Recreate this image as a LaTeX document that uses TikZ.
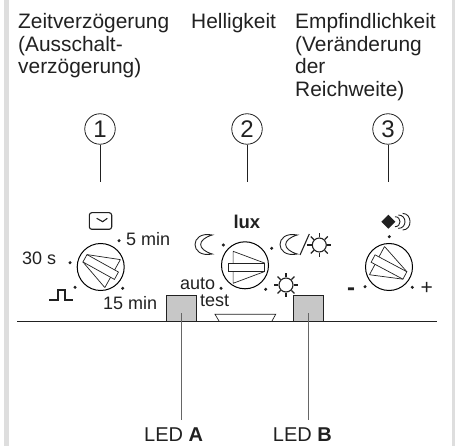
\documentclass[tikz,border=0pt]{standalone}
\usepackage{fontspec}
\setmainfont{Liberation Sans}
\definecolor{inkdark}{gray}{0.13}
\definecolor{barcol}{gray}{0.87}
\definecolor{ledcol}{gray}{0.78}
\tikzset{
  headtext/.style={anchor=north west,inner sep=0pt,align=left,text=inkdark,font=\fontsize{20.9}{22.7}\selectfont},
  smalltext/.style={anchor=base west,inner sep=0pt,text=inkdark,font=\fontsize{18}{20}\selectfont},
  ledtext/.style={anchor=base west,inner sep=0pt,text=inkdark,font=\fontsize{20}{22}\selectfont},
  numcircle/.style={circle,draw=inkdark,line width=0.8pt,minimum size=30.5pt,inner sep=0pt,text=inkdark,font=\fontsize{24}{26}\selectfont},
  dial/.style={circle,draw=black,line width=1pt,minimum size=47pt,inner sep=0pt},
  ledbox/.style={rectangle,draw=inkdark,fill=ledcol,line width=0.8pt,minimum width=30pt,minimum height=26pt,inner sep=0pt},
  thinline/.style={line width=0.7pt,draw=inkdark},
  iconline/.style={line width=0.9pt,draw=inkdark},
}
% pointer of a dial: wedge and bar around the local origin
\newcommand{\dialpointer}[3]{%
  \begin{scope}[shift={(#1,#2)},rotate=#3]
    \draw[thinline] (-13.6,-16) -- (18,-4.2) (-13.6,16) -- (18,4.2) (-13.6,-16) -- (-13.6,-4.2) (-13.6,4.2) -- (-13.6,16);
    \draw[thinline] (-18,-4.2) rectangle (18,4.2);
  \end{scope}}
\newcommand{\moonicon}[2]{%
  \draw[iconline,shift={(#1,#2)}] (7.3,-9.5) .. controls (-15.8,-14) and (-15.8,14) .. (7.3,9.5) .. controls (-8.2,5) and (-8.2,-5) .. cycle;}
\newcommand{\sunicon}[2]{%
  \begin{scope}[shift={(#1,#2)}]
    \draw[line width=1.1pt,draw=inkdark] (0,0) circle (7);
    \foreach \a in {0,45,...,315} \draw[line width=1.2pt,draw=inkdark] (\a:7.6) -- (\a:12);
  \end{scope}}

\begin{document}
\begin{tikzpicture}[x=1pt,y=-1pt]
  \useasboundingbox (0,0) rectangle (455,446);
  % side bars
  \fill[barcol] (4,0) rectangle (9,446);
  \fill[barcol] (452,0) rectangle (455,446);
  % ---------- headings ----------
  \node[headtext] (headA) at (18,13.2) {Zeitverzögerung\\(Ausschalt-\\verzögerung)};
  \node[headtext] (headB) at (191,13.2) {Helligkeit};
  \node[headtext] (headC) at (295,13.2) {Empfindlichkeit\\(Veränderung\\der\\Reichweite)};
  % ---------- numbers and their stems ----------
  \foreach \n/\x in {1/100,2/247,3/388} {
    \node[numcircle] (num\n) at (\x,129) {\n};
    \coordinate (stem\n) at (\x,182);
    \draw[thinline] (num\n) -- (stem\n);
  }
  % ---------- front edge ----------
  \coordinate (edgeL) at (17,321);
  \coordinate (edgeR) at (437,321);
  \draw[line width=0.9pt,draw=inkdark] (edgeL) -- (edgeR);
  \draw[thinline] (219,321) -- (215,314.3) -- (275.7,314.3) -- (272,321);
  \node[ledbox] (ledA) at (181,308) {};
  \node[ledbox] (ledB) at (308.7,308) {};
  \node[ledtext] (labelA) at (144,441.7) {LED \textbf{A}};
  \node[ledtext] (labelB) at (272.7,441.7) {LED \textbf{B}};
  \coordinate (endA) at (181,420);
  \coordinate (endB) at (308.7,420);
  \draw[line width=0.8pt,draw=black!60,shorten <=5pt] (ledA.center) -- (endA);
  \draw[line width=0.8pt,draw=black!60,shorten <=5pt] (ledB.center) -- (endB);
  % ---------- left dial ----------
  \node[dial] (dialA) at (100.7,267) {};
  \dialpointer{100.7}{267}{151}
  \foreach \x/\y in {119/240.7,70/262.7,75/287.3,122.7/288.3} \fill[inkdark] (\x,\y) circle (1.7);
  \node[smalltext] (minA) at (126,246) {5 min};
  \node[smalltext] (secA) at (22,265) {30 s};
  \node[smalltext] (minB) at (103,309.3) {15 min};
  \draw[line width=1.1pt,draw=inkdark,rounded corners=2.5pt] (89.3,212.7) rectangle (111.7,229.3);
  \draw[line width=1.1pt,draw=inkdark] (96.7,218.3) -- (102.7,221.7) -- (107.3,218.3);
  \draw[line width=1.8pt,draw=inkdark] (49.3,300) -- (57.7,300) -- (57.7,290) -- (65,290) -- (65,300) -- (72.7,300);
  % ---------- middle dial ----------
  \node[dial] (dialB) at (245,265.3) {};
  \dialpointer{246.7}{267.3}{0}
  \foreach \x/\y in {223.3/245,271.7/248.3,221/288.3,265.7/289.3} \fill[inkdark] (\x,\y) circle (1.7);
  \node[smalltext,font=\fontsize{18.5}{20}\bfseries] (luxB) at (233.3,228.3) {lux};
  \node[smalltext] (autoB) at (180,290) {auto};
  \node[smalltext] (testB) at (200,306.7) {test};
  \moonicon{205}{244.5}
  \moonicon{290}{244.5}
  \draw[line width=1.1pt,draw=inkdark] (300,255) -- (309.3,234);
  \sunicon{319.3}{245}
  \sunicon{286}{285}
  % ---------- right dial ----------
  \node[dial] (dialC) at (389,267) {};
  \dialpointer{389}{267}{-28}
  \foreach \x/\y in {389.3/236.7,365/286.7,412.3/287.3} \fill[inkdark] (\x,\y) circle (1.7);
  \fill[inkdark] (388.3,214.7) -- (395.3,221.7) -- (388.3,228.7) -- (381.3,221.7) -- cycle;
  \foreach \a/\b/\c in {6.7/5/13.4,10/6.7/18.9,14.3/8.3/24.2}
    \draw[line width=0.9pt,draw=inkdark,shift={(388.3,221.7)}] (\a,-\b) .. controls (\c,-\b) and (\c,\b) .. (\a,\b);
  \node[smalltext,font=\fontsize{24}{26}\bfseries] (minusC) at (347,295) {-};
  \node[smalltext,font=\fontsize{21}{22}\selectfont] (plusC) at (420.5,294.5) {+};
\end{tikzpicture}
\end{document}
